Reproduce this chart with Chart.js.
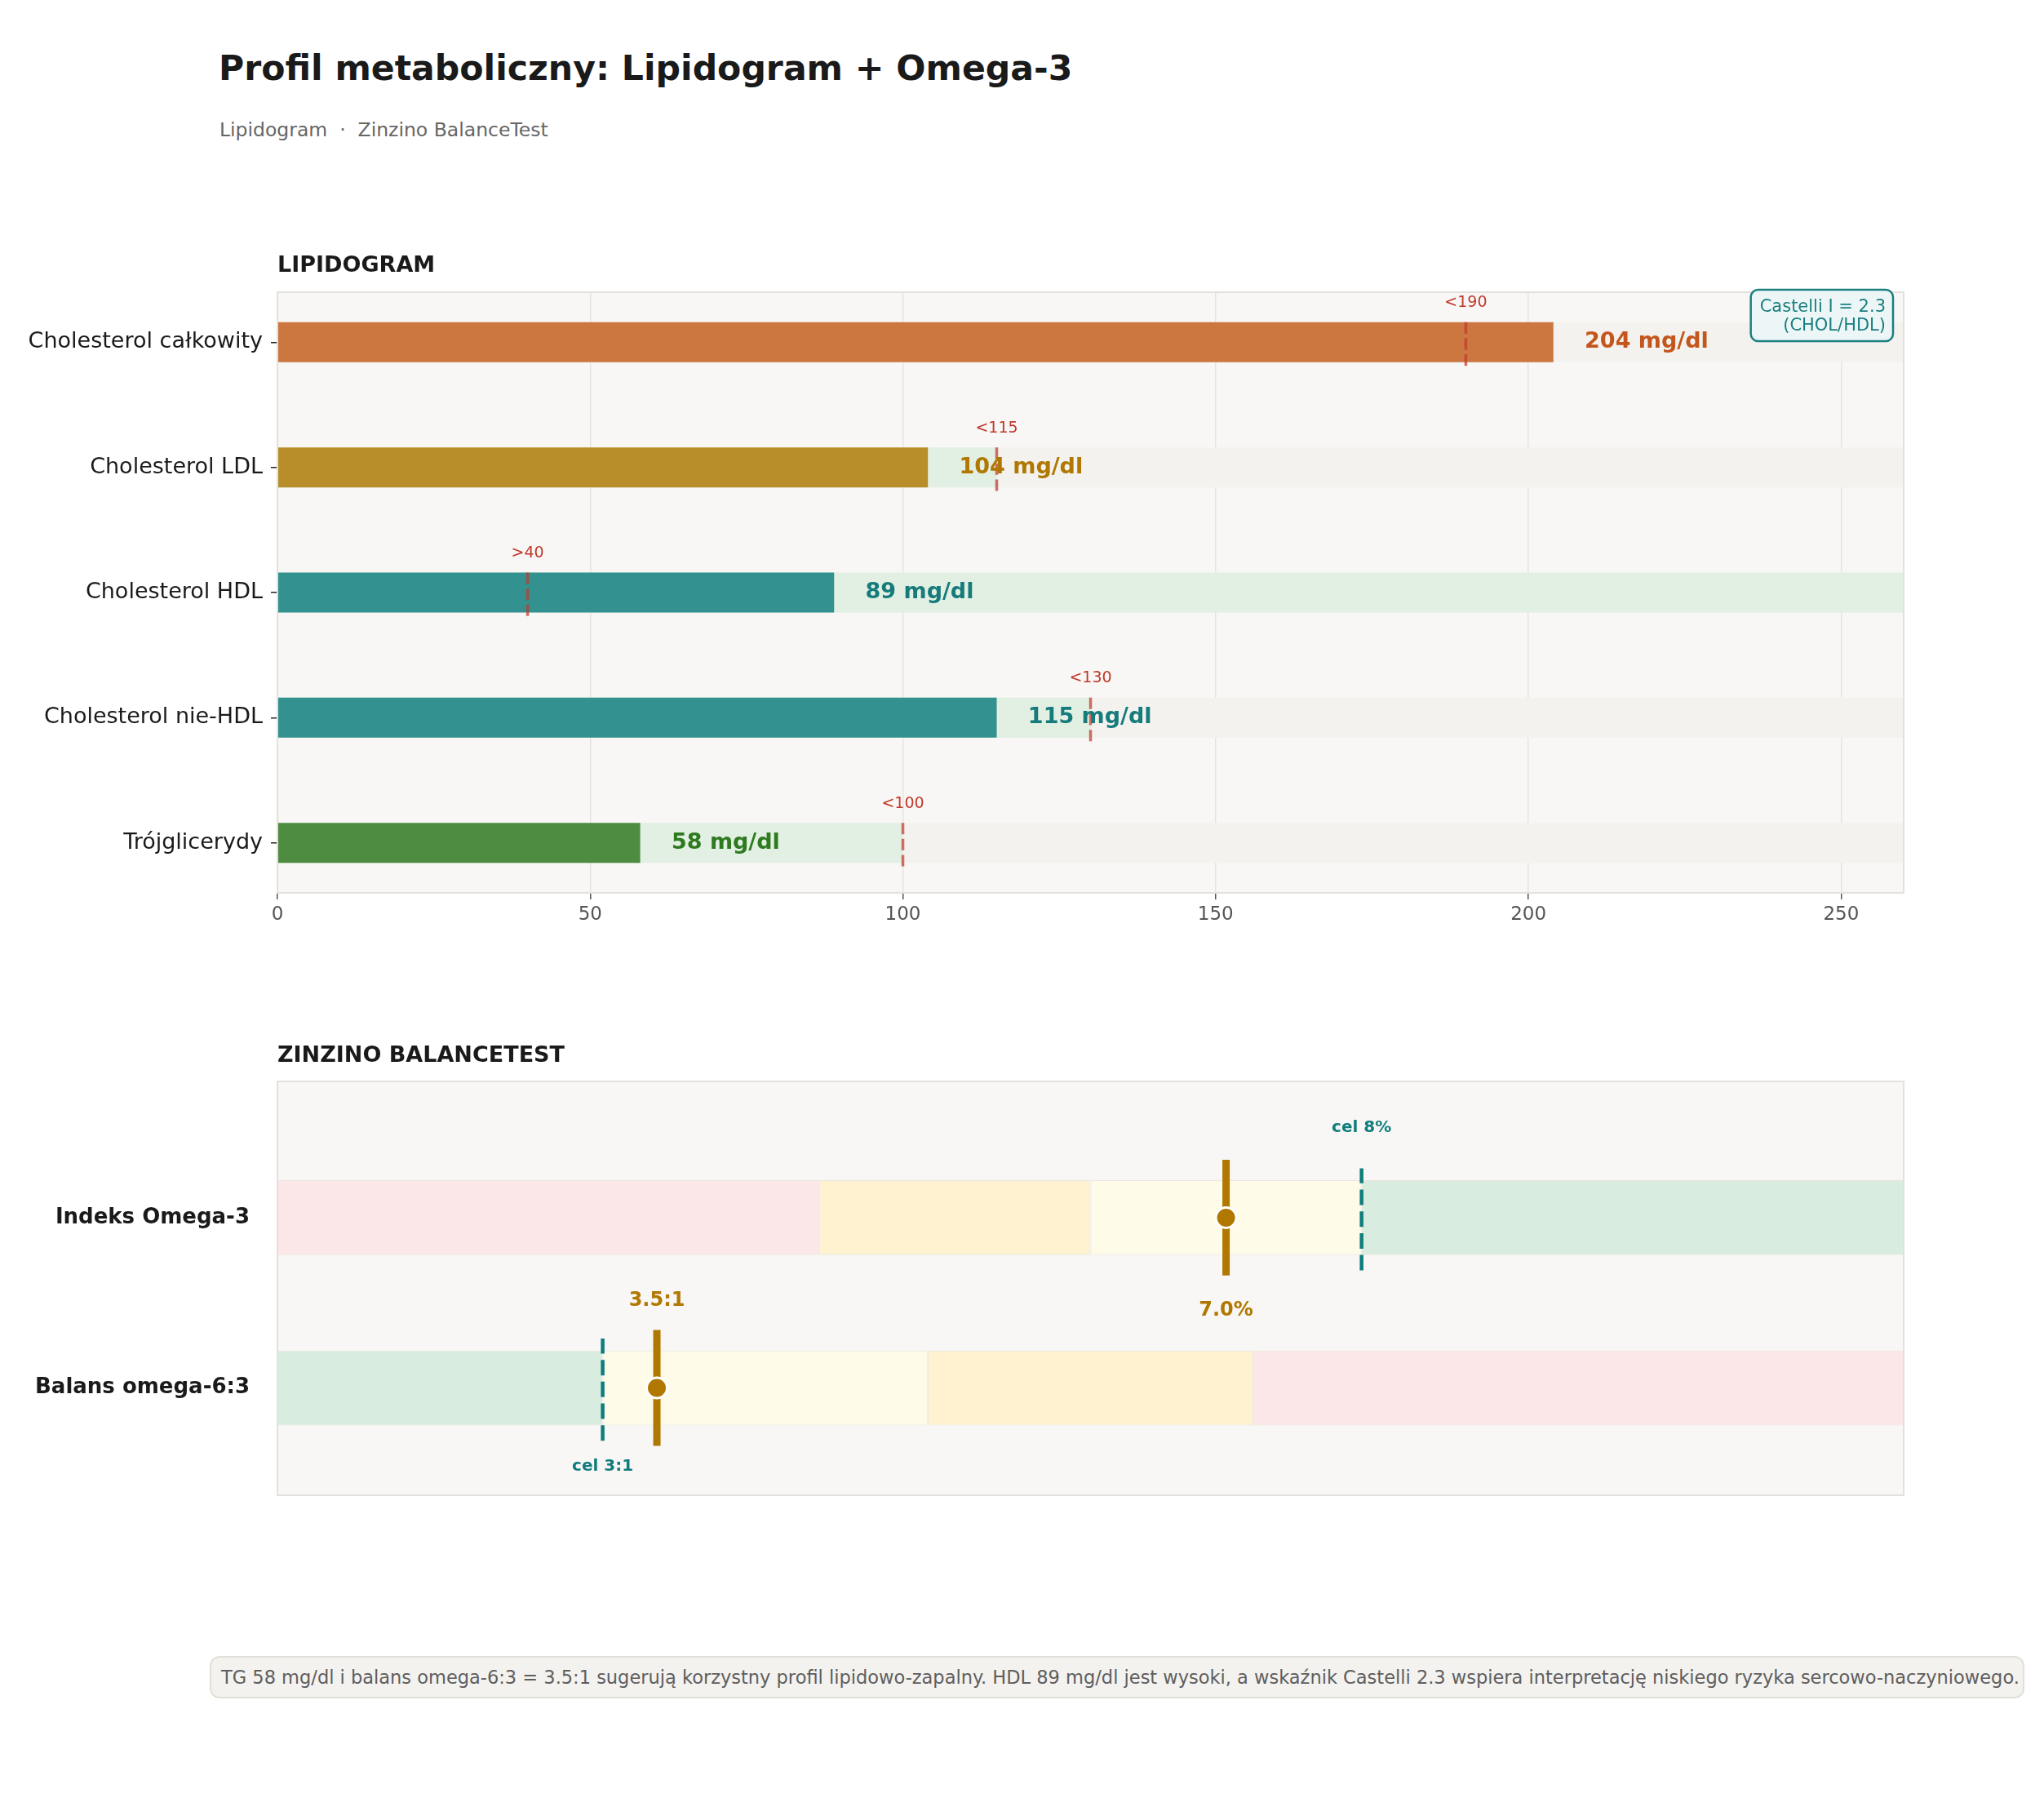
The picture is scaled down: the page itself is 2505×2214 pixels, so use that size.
<!DOCTYPE html>
<html lang="pl">
<head>
<meta charset="utf-8">
<title>Profil metaboliczny</title>
<script src="https://cdn.jsdelivr.net/npm/chart.js@4.4.1/dist/chart.umd.min.js"></script>
<style>
  html,body{margin:0;padding:0;background:#fff;}
  body{width:2505px;height:2214px;position:relative;overflow:hidden;font-family:"DejaVu Sans",sans-serif;color:#1a1a1a;}
  .abs{position:absolute;white-space:pre;line-height:1;}
  .wrap{position:absolute;left:0;width:2505px;}
  #title{left:268px;top:62px;font-size:42.6px;font-weight:bold;}
  #subtitle{left:269px;top:148px;font-size:23.5px;color:#666;}
  .sec{left:340px;font-size:27px;font-weight:bold;}
  #sec1{top:310px;}
  #sec2{top:1278px;}
  #box1{top:300px;height:854px;}
  #box2{top:1265px;height:627px;}
  #note{left:257px;top:2029px;width:2224px;height:52px;box-sizing:border-box;background:#f3f2ef;border:2px solid #e2dfd9;border-radius:12px;font-size:22.5px;color:#5e5e5e;line-height:48px;padding-left:12px;}
</style>
</head>
<body>
<div class="wrap" id="box1"><canvas id="lipidChart"></canvas></div>
<div class="wrap" id="box2"><canvas id="balanceChart"></canvas></div>
<div class="abs" id="title">Profil metaboliczny: Lipidogram + Omega-3</div>
<div class="abs" id="subtitle">Lipidogram  ·  Zinzino BalanceTest</div>
<div class="abs sec" id="sec1">LIPIDOGRAM</div>
<div class="abs sec" id="sec2">ZINZINO BALANCETEST</div>
<div class="abs" id="note">TG 58 mg/dl i balans omega-6:3 = 3.5:1 sugerują korzystny profil lipidowo-zapalny. HDL 89 mg/dl jest wysoki, a wskaźnik Castelli 2.3 wspiera interpretację niskiego ryzyka sercowo-naczyniowego.</div>
<script>
/* ---------- Data: lipidogram ---------- */
const lipidLabels = ['Cholesterol całkowity','Cholesterol LDL','Cholesterol HDL','Cholesterol nie-HDL','Trójglicerydy'];
const lipidValues = [204, 104, 89, 115, 58];
const lipidRefs   = [190, 115, 40, 130, 100];
const lipidRefText = ['<190','<115','>40','<130','<100'];
const goodFrom = [0, 0, 40, 0, 0];      // zakres "dobry" (zielony tor)
const goodTo   = [190, 115, 260, 130, 100];
const lipidTicks = [0, 50, 100, 150, 200, 250];
const lipidMax = 260;
const lipidUnit = 'mg/dl';

/* ---------- Data: Zinzino BalanceTest ---------- */
const balLabels = ['Indeks Omega-3','Balans omega-6:3'];
const balRows = [1, 0];
const o3Zones = [0, 4, 6, 8, 12];
const o3Value = 7.0, o3Target = 8;
const ratioZones = [0, 3, 6, 9, 15];
const ratioValue = 3.5, ratioTarget = 3;

/* ---------- Styles ---------- */
const barColors = ['#cc7640','#b88e2a','#33918f','#33918f','#4e8d41'];
const valueTextColors = ['#c4561c','#b07800','#167b7b','#167b7b','#2e7a1f'];
const zoneRed = '#fbe7e7', zoneOrange = '#fef2d0', zoneYellow = '#fffbe9', zoneGreen = '#d8ede0';
const o3ZoneColors = [zoneRed, zoneOrange, zoneYellow, zoneGreen];
const ratioZoneColors = [zoneGreen, zoneYellow, zoneOrange, zoneRed];
const gold = '#b07800', teal = '#0f7d7d';
const FONT = '"DejaVu Sans", sans-serif';

Chart.defaults.font.family = FONT;
Chart.defaults.animation = false;
Chart.defaults.plugins.legend.display = false;
Chart.defaults.plugins.tooltip.enabled = false;

/* ---------- Helper plugins ---------- */
const plotFrame = {
  id:'plotFrame',
  beforeDraw(chart){
    const {ctx, chartArea:a} = chart;
    ctx.save();
    ctx.fillStyle = '#f8f7f5';
    ctx.fillRect(a.left, a.top, a.right-a.left, a.bottom-a.top);
    ctx.restore();
  },
  afterDatasetsDraw(chart){
    const {ctx, chartArea:a} = chart;
    ctx.save();
    ctx.strokeStyle = '#e4e1dc';
    ctx.lineWidth = 2;
    ctx.strokeRect(a.left, a.top, a.right-a.left, a.bottom-a.top);
    ctx.restore();
  }
};

const lipidText = {
  id:'lipidText',
  afterDatasetsDraw(chart){
    const {ctx, chartArea:a, scales:{x, y}} = chart;
    ctx.save();
    // progi referencyjne
    ctx.font = `19px ${FONT}`;
    ctx.fillStyle = '#c0392b';
    ctx.textAlign = 'center';
    ctx.textBaseline = 'alphabetic';
    lipidRefs.forEach((r,i)=> ctx.fillText(lipidRefText[i], x.getPixelForValue(r), y.getPixelForValue(i-0.28)));
    // wartości
    ctx.font = `bold 27px ${FONT}`;
    ctx.textAlign = 'left';
    ctx.textBaseline = 'middle';
    lipidValues.forEach((v,i)=>{
      ctx.fillStyle = valueTextColors[i];
      ctx.fillText(`${v} ${lipidUnit}`, x.getPixelForValue(v+5), y.getPixelForValue(i));
    });
    // Castelli I
    const castelli = (lipidValues[0]/lipidValues[2]).toFixed(1);
    const lines = [`Castelli I = ${castelli}`, '(CHOL/HDL)'];
    ctx.font = `21px ${FONT}`;
    const w = Math.max(...lines.map(t=>ctx.measureText(t).width)) + 20;
    const right = a.right - 13, top = a.top - 3, h = 63, r = 9;
    const left = right - w;
    ctx.beginPath();
    ctx.moveTo(left+r, top);
    ctx.arcTo(right, top, right, top+h, r);
    ctx.arcTo(right, top+h, left, top+h, r);
    ctx.arcTo(left, top+h, left, top, r);
    ctx.arcTo(left, top, right, top, r);
    ctx.closePath();
    ctx.fillStyle = '#edf6f6';
    ctx.fill();
    ctx.lineWidth = 2.5;
    ctx.strokeStyle = '#1a7f80';
    ctx.stroke();
    ctx.fillStyle = '#1a7f80';
    ctx.textAlign = 'right';
    ctx.textBaseline = 'alphabetic';
    ctx.fillText(lines[0], right-9, top+27);
    ctx.fillText(lines[1], right-9, top+50);
    ctx.restore();
  }
};

const balanceText = {
  id:'balanceText',
  afterDatasetsDraw(chart){
    const {ctx, scales} = chart;
    const y = scales.y, xo = scales.xO3, xr = scales.xR;
    const o3Row = balRows[0], ratioRow = balRows[1];
    const put = (txt, px, py, size, color) => {
      ctx.font = `bold ${size}px ${FONT}`;
      ctx.fillStyle = color;
      ctx.fillText(txt, px, py);
    };
    ctx.save();
    ctx.textAlign = 'center';
    ctx.textBaseline = 'middle';
    put(`${o3Value.toFixed(1)}%`, xo.getPixelForValue(o3Value), y.getPixelForValue(o3Row-0.545), 24, gold);
    put(`cel ${o3Target}%`, xo.getPixelForValue(o3Target), y.getPixelForValue(o3Row+0.53), 20, teal);
    put(`${ratioValue.toFixed(1)}:1`, xr.getPixelForValue(ratioValue), y.getPixelForValue(ratioRow+0.51), 24, gold);
    put(`cel ${ratioTarget}:1`, xr.getPixelForValue(ratioTarget), y.getPixelForValue(ratioRow-0.46), 20, teal);
    ctx.restore();
  }
};

/* ---------- Chart 1: lipidogram ---------- */
const barBase = {grouped:false, barPercentage:0.32, categoryPercentage:1, borderWidth:0};

new Chart(document.getElementById('lipidChart'), {
  type:'bar',
  data:{datasets:[
    {data: lipidLabels.map((_,i)=>({y:i, x:[0, lipidMax]})), backgroundColor:'#f3f2ef', order:5, ...barBase},
    {data: lipidLabels.map((_,i)=>({y:i, x:[goodFrom[i], goodTo[i]]})), backgroundColor:'#e2efe3', order:4, ...barBase},
    {data: lipidValues.map((v,i)=>({y:i, x:[0, v]})), backgroundColor:barColors, order:3, ...barBase},
    ...lipidRefs.map((r,i)=>({
      type:'line', data:[{x:r, y:i-0.16},{x:r, y:i+0.19}],
      borderColor:'rgba(192,57,43,0.72)', borderWidth:3.5, borderDash:[14,5.7],
      pointRadius:0, fill:false, order:1
    }))
  ]},
  options:{
    indexAxis:'y',
    responsive:true,
    maintainAspectRatio:false,
    layout:{padding:{top:58, right:172, left:0, bottom:0}},
    scales:{
      x:{
        type:'linear', min:0, max:lipidMax, offset:false,
        afterBuildTicks: s => { s.ticks = lipidTicks.map(v=>({value:v})); },
        afterFit: s => { s.height = 60; },
        grid:{color:'#e7e4df', lineWidth:1.5, tickColor:'#555', tickLength:8, offset:false},
        border:{display:false},
        ticks:{color:'#555', font:{size:23}, padding:5}
      },
      y:{
        type:'linear', reverse:true, min:-0.4, max:4.4, offset:false,
        afterBuildTicks: s => { s.ticks = lipidLabels.map((_,i)=>({value:i})); },
        afterFit: s => { s.width = 340; },
        grid:{drawOnChartArea:false, tickColor:'#222', tickLength:8, lineWidth:1.5, offset:false},
        border:{display:false},
        ticks:{color:'#1a1a1a', font:{size:27}, padding:10, autoSkip:false, callback: v => lipidLabels[v]}
      }
    }
  },
  plugins:[plotFrame, lipidText]
});

/* ---------- Chart 2: Zinzino BalanceTest ---------- */
const zoneBase = {grouped:false, barPercentage:0.44, categoryPercentage:1, borderWidth:1, borderColor:'#ebe6dd', borderSkipped:false, order:5};
const zoneSets = (zones, colors, axis, row) => zones.slice(0,-1).map((z,k)=>({
  xAxisID:axis, data:[{y:row, x:[z, zones[k+1]]}], backgroundColor:colors[k], ...zoneBase
}));
const targetSet = (v, axis, row) => ({
  type:'line', xAxisID:axis, data:[{x:v, y:row-0.31},{x:v, y:row+0.29}],
  borderColor:teal, borderWidth:4.5, borderDash:[19,7.7], pointRadius:0, fill:false, order:3
});
const markerSets = (v, axis, row) => ([
  {type:'line', xAxisID:axis, data:[{x:v, y:row-0.34},{x:v, y:row+0.34}],
   borderColor:gold, borderWidth:9, borderCapStyle:'butt', pointRadius:0, fill:false, order:2},
  {type:'scatter', xAxisID:axis, data:[{x:v, y:row}],
   pointRadius:12.5, pointBackgroundColor:gold, pointBorderColor:'#ffffff', pointBorderWidth:3, order:1}
]);

new Chart(document.getElementById('balanceChart'), {
  type:'bar',
  data:{datasets:[
    ...zoneSets(o3Zones, o3ZoneColors, 'xO3', balRows[0]),
    ...zoneSets(ratioZones, ratioZoneColors, 'xR', balRows[1]),
    targetSet(o3Target, 'xO3', balRows[0]),
    targetSet(ratioTarget, 'xR', balRows[1]),
    ...markerSets(o3Value, 'xO3', balRows[0]),
    ...markerSets(ratioValue, 'xR', balRows[1])
  ]},
  options:{
    indexAxis:'y',
    responsive:true,
    maintainAspectRatio:false,
    layout:{padding:{top:60, right:172, left:0, bottom:60}},
    scales:{
      xO3:{type:'linear', axis:'x', position:'bottom', min:0, max:o3Zones[o3Zones.length-1], offset:false, display:false},
      xR:{type:'linear', axis:'x', position:'bottom', min:0, max:ratioZones[ratioZones.length-1], offset:false, display:false},
      y:{
        type:'linear', min:-0.63, max:1.8, offset:false,
        afterBuildTicks: s => { s.ticks = balRows.map(v=>({value:v})); },
        afterFit: s => { s.width = 340; },
        grid:{display:false, drawTicks:false, offset:false},
        border:{display:false},
        ticks:{color:'#1a1a1a', font:{size:26, weight:'bold'}, padding:34, autoSkip:false,
               callback: v => balLabels[balRows.indexOf(v)]}
      }
    }
  },
  plugins:[plotFrame, balanceText]
});
</script>
</body>
</html>
